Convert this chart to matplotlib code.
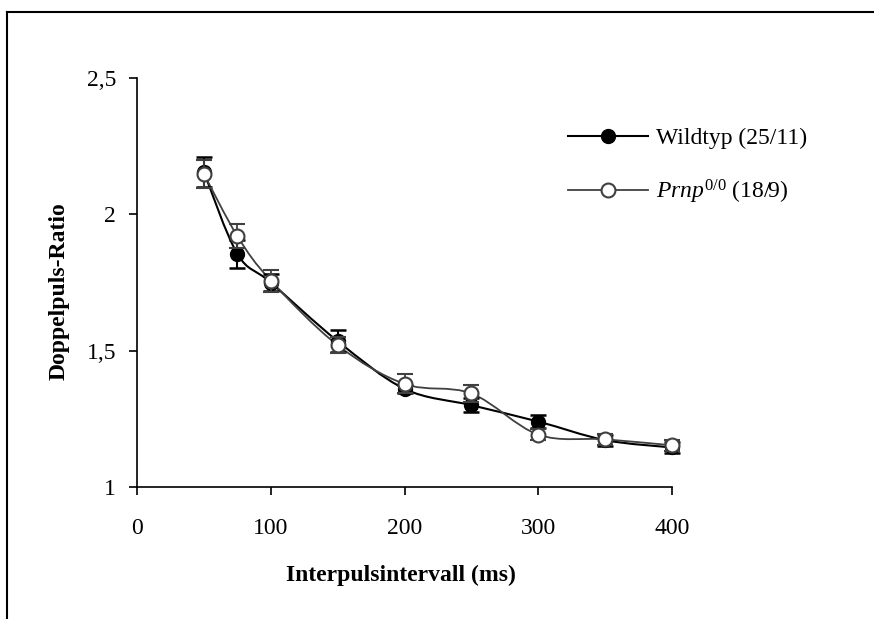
import matplotlib
matplotlib.use("Agg")
import matplotlib.pyplot as plt
from matplotlib.path import Path
from matplotlib.patches import PathPatch
from matplotlib.lines import Line2D
import numpy as np

# interval (ms)
intervals = [50, 75, 100, 150, 200, 250, 300, 350, 400]
# paired pulse ratio, wildtype
wt_mean = [2.155, 1.855, 1.750, 1.535, 1.360, 1.300, 1.240, 1.172, 1.145]
wt_err = [0.055, 0.050, 0.030, 0.040, 0.015, 0.025, 0.025, 0.020, 0.020]
# paired pulse ratio, Prnp 0/0
ko_mean = [2.148, 1.920, 1.757, 1.520, 1.378, 1.343, 1.192, 1.175, 1.153]
ko_err = [0.050, 0.045, 0.040, 0.030, 0.035, 0.030, 0.020, 0.020, 0.020]

xticks = [0, 100, 200, 300, 400]
yticks = [1, 1.5, 2, 2.5]
ytick_labels = ['1', '1,5', '2', '2,5']

plt.rcParams['font.family'] = ['Liberation Serif', 'DejaVu Serif']
plt.rcParams['mathtext.fontset'] = 'custom'
plt.rcParams['mathtext.rm'] = 'Liberation Serif'
plt.rcParams['mathtext.it'] = 'Liberation Serif:italic'

FS = 17


def smooth_path(xs, ys):
	# excel-style smoothed line: cubic bezier between neighbours
	pts = np.column_stack([xs, ys]).astype(float)
	n = len(pts)
	verts = [pts[0]]
	codes = [Path.MOVETO]
	for i in range(n - 1):
		p0 = pts[i - 1] if i > 0 else pts[i]
		p1 = pts[i]
		p2 = pts[i + 1]
		p3 = pts[i + 2] if i + 2 < n else pts[i + 1]
		c1 = p1 + (p2 - p0) / 6.0
		c2 = p2 - (p3 - p1) / 6.0
		verts += [c1, c2, p2]
		codes += [Path.CURVE4] * 3
	return Path(verts, codes)


fig = plt.figure(figsize=(8.74, 6.19), dpi=100)
ax = fig.add_axes([0.1568, 0.2132, 0.6122, 0.6608])

gray = '#404040'

# lines (smoothed)
ax.add_patch(PathPatch(smooth_path(intervals, wt_mean), fill=False, edgecolor='black', lw=1.5, zorder=2, clip_on=False))
ax.add_patch(PathPatch(smooth_path(intervals, ko_mean), fill=False, edgecolor=gray, lw=1.3, zorder=3, clip_on=False))

# error bars + markers
e1 = ax.errorbar(intervals, wt_mean, yerr=wt_err, fmt='o', color='black', ms=10,
			mfc='black', mec='black', ecolor='black', elinewidth=1.5, capsize=6, capthick=1.8, zorder=4)
e2 = ax.errorbar(intervals, ko_mean, yerr=ko_err, fmt='o', color=gray, ms=10,
			mfc='white', mec=gray, mew=1.5, ecolor=gray, elinewidth=1.3, capsize=6, capthick=1.5, zorder=5)
for eb in (e1, e2):
	for a in eb.get_children():
		a.set_clip_on(False)

ax.set_xlim(0, 400)
ax.set_ylim(1, 2.5)
ax.set_xticks(xticks)
ax.set_yticks(yticks)
ax.set_yticklabels(ytick_labels)
ax.tick_params(axis='both', labelsize=FS, direction='out', length=6, width=1.2)
ax.tick_params(axis='x', pad=16)
ax.tick_params(axis='y', pad=9)
for s in ['top', 'right']:
	ax.spines[s].set_visible(False)
for s in ['left', 'bottom']:
	ax.spines[s].set_linewidth(1.2)

ax.set_xlabel('Interpulsintervall (ms)', fontsize=FS, fontweight='bold', labelpad=19, x=0.494)
ax.set_ylabel('Doppelpuls-Ratio', fontsize=FS, fontweight='bold', labelpad=12, y=0.478)

# legend
h1 = Line2D([], [], color='black', lw=1.5, marker='o', ms=10, mfc='black', mec='black')
h2 = Line2D([], [], color=gray, lw=1.3, marker='o', ms=10, mfc='white', mec=gray, mew=1.5)
ax.legend([h1, h2], ['Wildtyp (25/11)', r'$\mathit{Prnp}^{\mathrm{0/0}}$ (18/9)'],
		  frameon=False, fontsize=FS, handlelength=3.4, labelspacing=1.2,
		  loc='upper left', bbox_to_anchor=(0.766, 0.93), handletextpad=0.3)

# outer frame (cut by the picture edge)
fig.add_artist(Line2D([7 / 874, 1.0], [1 - 12 / 619, 1 - 12 / 619], color='black', lw=1.5, transform=fig.transFigure))
fig.add_artist(Line2D([7 / 874, 7 / 874], [0, 1 - 12 / 619], color='black', lw=1.5, transform=fig.transFigure))

fig.savefig('out.png', dpi=100)
